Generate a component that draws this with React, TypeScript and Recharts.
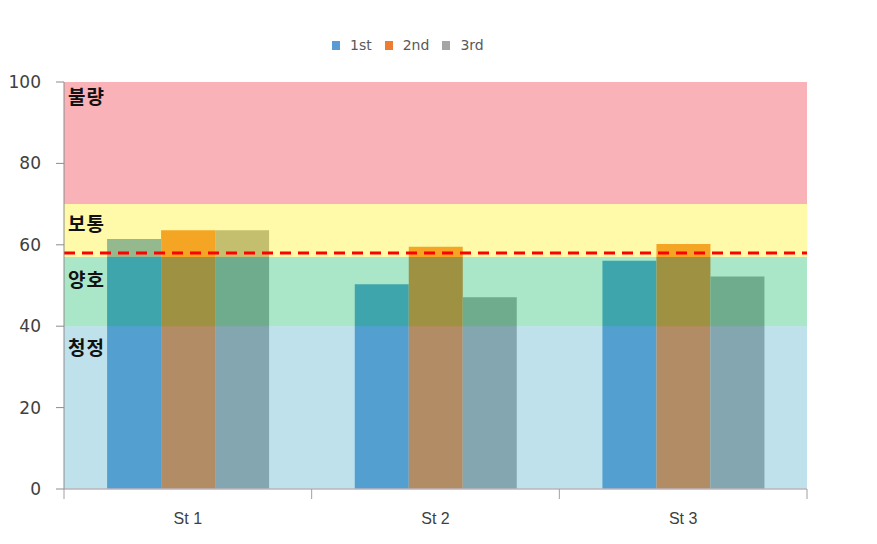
import React from 'react';
import {
  BarChart,
  Bar,
  XAxis,
  YAxis,
  ReferenceArea,
  ReferenceLine,
} from 'recharts';

// ---- data ----
const categories = ['St 1', 'St 2', 'St 3'];
const first = [61.4, 50.3, 56.1];
const second = [63.6, 59.5, 60.2];
const third = [63.6, 47.1, 52.2];
const seriesNames = ['1st', '2nd', '3rd'];
const seriesColors = ['#5B9BD5', '#ED7D31', '#A5A5A5'];
const yTicks = [0, 20, 40, 60, 80, 100];

// grade bands
const bandLabels = ['청정', '양호', '보통', '불량'];
const bandBounds = [
  [0, 40],
  [40, 57],
  [57, 70],
  [70, 100],
];
const bandLabelAt = [35.1, 51.6, 65.5, 96.8];
const bandColors = ['#45A9C9', '#0CB862', '#FFF10C', '#F12337'];
const thresholdValue = 58;

const data = categories.map((c, i) => ({
  name: c,
  s1: first[i],
  s2: second[i],
  s3: third[i],
}));
const seriesKeys = ['s1', 's2', 's3'];

const makeBandLabel = (idx: number) => (props: any) => {
  const vb = props.viewBox || {};
  const [lo, hi] = bandBounds[idx];
  const pxPerUnit = vb.height / (hi - lo);
  const cy = vb.y + (hi - bandLabelAt[idx]) * pxPerUnit;
  return (
    <text
      x={vb.x + 4}
      y={cy}
      dominantBaseline="central"
      fontFamily="'Noto Sans CJK KR', sans-serif"
      fontWeight={700}
      fontSize={19}
      fill="#111111"
      letterSpacing={1}
    >
      {bandLabels[idx]}
    </text>
  );
};

const CategoryTick = (props: any) => {
  const { x, y, payload, index } = props;
  const half = (payload && payload.offset) || 0;
  const isLast = index === categories.length - 1;
  return (
    <g>
      <line x1={x - half} x2={x - half} y1={y} y2={y + 10} stroke="#A0A0A0" />
      {isLast && (
        <line x1={x + half} x2={x + half} y1={y} y2={y + 10} stroke="#A0A0A0" />
      )}
      <text
        x={x}
        y={y + 29}
        textAnchor="middle"
        dominantBaseline="central"
        fill="#404040"
        fontSize={16}
        fontFamily="'Liberation Sans Narrow', 'Liberation Sans', sans-serif"
      >
        {payload.value}
      </text>
    </g>
  );
};

export default function App() {
  return (
    <div style={{ position: 'relative', width: 869, height: 536 }}>
      <div
        style={{
          position: 'absolute',
          left: 324,
          top: 29,
          display: 'flex',
          alignItems: 'center',
          fontFamily: "'DejaVu Sans', sans-serif",
          fontSize: 14,
          color: '#595959',
          whiteSpace: 'nowrap',
        }}
      >
        {seriesNames.map((n, i) => (
          <div key={n} style={{ display: 'flex', alignItems: 'center', marginRight: 13 }}>
            <span
              style={{
                display: 'inline-block',
                width: 8,
                height: 9,
                background: seriesColors[i],
                marginRight: 10,
              }}
            />
            <span>{n}</span>
          </div>
        ))}
      </div>
      <BarChart
        width={869}
        height={536}
        data={data}
        margin={{ top: 74, right: 70, left: 0, bottom: 15 }}
        barCategoryGap="17.4%"
        barGap={0}
      >
        <XAxis
          dataKey="name"
          axisLine={{ stroke: '#BDB3BB', strokeWidth: 1.5 }}
          tickLine={false}
          tickSize={0}
          tickMargin={0}
          height={40}
          interval={0}
          tick={<CategoryTick />}
        />
        <YAxis
          domain={[0, 100]}
          ticks={yTicks}
          width={56}
          tickSize={8}
          tickMargin={15}
          axisLine={{ stroke: '#8C8C8C' }}
          tickLine={{ stroke: '#8C8C8C' }}
          tick={{
            fill: '#404040',
            fontSize: 17,
            fontFamily: "'DejaVu Sans', sans-serif",
          }}
        />
        {seriesKeys.map((k, i) => (
          <Bar
            key={k}
            dataKey={k}
            name={seriesNames[i]}
            fill={seriesColors[i]}
            isAnimationActive={false}
          />
        ))}
        {bandBounds.map(([lo, hi], i) => (
          <ReferenceArea
            key={'band' + i}
            y1={lo}
            y2={hi}
            fill={bandColors[i]}
            fillOpacity={0.35}
            stroke="none"
            ifOverflow="extendDomain"
            zIndex={350}
            label={makeBandLabel(i)}
          />
        ))}
        <ReferenceLine
          y={thresholdValue}
          stroke="#FF0000"
          strokeWidth={3}
          strokeDasharray="11 7"
          zIndex={450}
        />
      </BarChart>
    </div>
  );
}
